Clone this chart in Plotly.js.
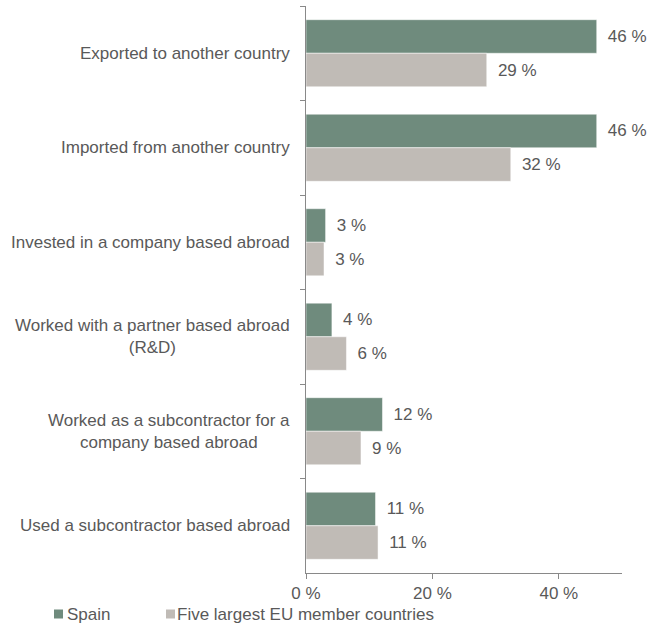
<!DOCTYPE html>
<html>
<head>
<meta charset="utf-8">
<script src="https://cdn.plot.ly/plotly-3.0.1.min.js"></script>
<style>html,body{margin:0;padding:0;background:#fff;}#chart{width:648px;height:624px;}</style>
</head>
<body>
<div id="chart"></div>
<script>
var categories = [
  "Exported to another country",
  "Imported from another country",
  "Invested in a company based abroad",
  "Worked with a partner based abroad<br>(R&D)",
  "Worked as a subcontractor for a<br>company based abroad",
  "Used a subcontractor based abroad"
];
var seriesNames = ["Spain", "Five largest EU member countries"];
var spainValues = [46.0, 46.0, 3.1, 4.1, 12.1, 11.0];
var spainLabels = ["46 %", "46 %", "3 %", "4 %", "12 %", "11 %"];
var euValues = [28.6, 32.4, 2.85, 6.4, 8.7, 11.4];
var euLabels = ["29 %", "32 %", "3 %", "6 %", "9 %", "11 %"];
var xTickVals = [0, 20, 40];
var xTickText = ["0 %", "20 %", "40 %"];

var colors = ["#6f8b7d", "#c0bbb6"];
var textColor = "#595959";
var fontFam = "'Liberation Sans', Arial, sans-serif";
var fs = 17;
var pad = "\u00a0\u2009";

var W = 648, H = 624;
var M = {l: 306, r: 26, t: 6, b: 51};
var pw = W - M.l - M.r, ph = H - M.t - M.b;
function px2x(p){ return (p - M.l) / pw; }
function py2y(p){ return (H - M.b - p) / ph; }

var traces = [
  {
    type: "bar", orientation: "h", name: seriesNames[0],
    y: categories, x: spainValues,
    text: spainLabels.map(function(t){return pad + t;}),
    textposition: "outside", cliponaxis: false,
    textfont: {color: textColor, size: fs, family: fontFam},
    marker: {color: colors[0], line: {color: "#ffffff", width: 0.5}},
    hoverinfo: "none", showlegend: false
  },
  {
    type: "bar", orientation: "h", name: seriesNames[1],
    y: categories, x: euValues,
    text: euLabels.map(function(t){return pad + t;}),
    textposition: "outside", cliponaxis: false,
    textfont: {color: textColor, size: fs, family: fontFam},
    marker: {color: colors[1], line: {color: "#ffffff", width: 0.5}},
    hoverinfo: "none", showlegend: false
  }
];

var annotations = categories.map(function(c){
  return {
    xref: "paper", yref: "y", x: 0, y: c, xanchor: "right", yanchor: "middle",
    xshift: -14, text: c, showarrow: false, align: "center",
    font: {color: textColor, size: fs, family: fontFam}
  };
});

// manual legend
var legendSq = [[54, 63], [166, 175]];
var legendTextX = [65, 175];
var legendY = 614;
var shapes = [];
seriesNames.forEach(function(n, i){
  shapes.push({
    type: "rect", xref: "paper", yref: "paper",
    x0: px2x(legendSq[i][0]), x1: px2x(legendSq[i][1]),
    y0: py2y(legendY + 4.5), y1: py2y(legendY - 4.5),
    fillcolor: colors[i], line: {width: 0}
  });
  annotations.push({
    xref: "paper", yref: "paper", x: px2x(legendTextX[i]), y: py2y(legendY),
    xanchor: "left", yanchor: "middle", text: n, showarrow: false,
    font: {color: textColor, size: fs, family: fontFam}
  });
});

var layout = {
  width: W, height: H,
  margin: M,
  paper_bgcolor: "#ffffff", plot_bgcolor: "#ffffff",
  barmode: "group", bargap: 0.29, bargroupgap: 0,
  showlegend: false,
  font: {family: fontFam, color: textColor, size: fs},
  xaxis: {
    range: [0, 50], tickvals: xTickVals, ticktext: xTickText,
    showgrid: false, zeroline: false, showline: true, linecolor: "#898989", linewidth: 1,
    ticks: "outside", ticklen: 5, tickcolor: "#898989",
    tickfont: {size: fs, color: textColor, family: fontFam}, fixedrange: true
  },
  yaxis: {
    type: "category", autorange: "reversed",
    showgrid: false, zeroline: false, showline: true, linecolor: "#898989", linewidth: 1,
    ticks: "outside", ticklen: 5, tickcolor: "#898989", tickson: "boundaries",
    showticklabels: false, fixedrange: true
  },
  shapes: shapes,
  annotations: annotations
};

Plotly.newPlot("chart", traces, layout, {displayModeBar: false, staticPlot: true});
</script>
</body>
</html>
